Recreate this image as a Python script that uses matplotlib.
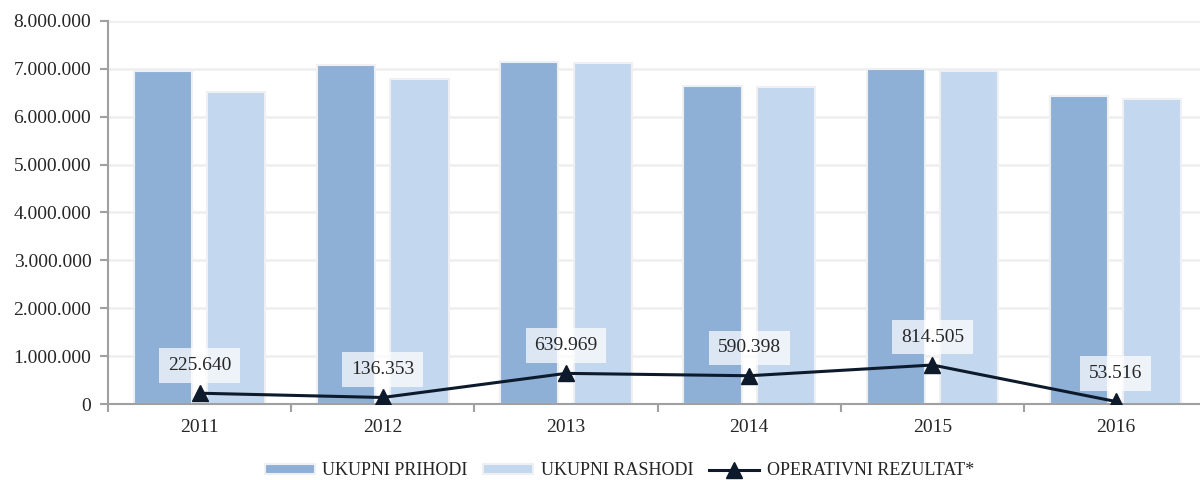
import matplotlib
matplotlib.use("Agg")
import matplotlib.pyplot as plt
import numpy as np
from matplotlib.ticker import FuncFormatter, FixedLocator

years = ["2011", "2012", "2013", "2014", "2015", "2016"]
prihodi = [6950000, 7080000, 7140000, 6640000, 6990000, 6430000]
rashodi = [6510000, 6790000, 7120000, 6620000, 6950000, 6380000]
rezultat = [225640, 136353, 639969, 590398, 814505, 53516]
series_names = ["UKUPNI PRIHODI", "UKUPNI RASHODI", "OPERATIVNI REZULTAT*"]

plt.rcParams['font.family'] = ['Liberation Serif', 'DejaVu Serif']

def fmt(v):
    return f"{int(round(v)):,}".replace(",", ".")

fig = plt.figure(figsize=(12, 4.8), dpi=100)
ax = fig.add_axes([0.09, 0.1583, 0.916, 0.798])

x = np.arange(len(years))
w = 0.318
off = 0.2
c1 = "#8eb0d7"
c2 = "#c3d7ee"
line_c = "#0d1a2b"
txt_c = "#262626"

b1 = ax.bar(x - off, prihodi, w, color=c1, edgecolor="#eef0f3", linewidth=1.5, label=series_names[0], zorder=2)
b2 = ax.bar(x + off, rashodi, w, color=c2, edgecolor="#eef0f3", linewidth=1.5, label=series_names[1], zorder=2)
ln, = ax.plot(x, rezultat, color=line_c, lw=2.2, marker="^", markersize=12, label=series_names[2], zorder=4)

for xi, v in zip(x, rezultat):
    ax.annotate(fmt(v), (xi, v), xytext=(0, 20), textcoords="offset points",
                ha="center", va="center", fontsize=14, color=txt_c, zorder=5,
                bbox=dict(boxstyle="square,pad=0.45", fc="white", ec="none", alpha=0.7))

ax.set_xlim(-0.5, len(years) - 0.5)
ax.set_ylim(0, 8000000)
ax.yaxis.set_major_locator(FixedLocator(np.arange(0, 8000001, 1000000)))
ax.yaxis.set_major_formatter(FuncFormatter(lambda v, p: fmt(v)))
ax.set_xticks(x)
ax.set_xticklabels(years)
ax.set_xticks(np.arange(-0.5, len(years), 1.0), minor=True)
ax.tick_params(axis="x", which="major", length=0, pad=11, labelsize=14, colors=txt_c)
ax.tick_params(axis="x", which="minor", length=6, width=1.5, color="#a0a0a0")
ax.tick_params(axis="y", length=6, width=1.5, color="#a0a0a0", labelsize=14, colors=txt_c, pad=6)
ax.grid(axis="y", color="#eeeeee", lw=1.8, zorder=0)
ax.set_axisbelow(True)
for s in ["top", "right"]:
    ax.spines[s].set_visible(False)
ax.spines["left"].set_color("#a0a0a0")
ax.spines["bottom"].set_color("#a0a0a0")
ax.spines["left"].set_linewidth(1.5)
ax.spines["bottom"].set_linewidth(1.5)

leg = fig.legend(handles=[b1, b2, ln], loc="center", bbox_to_anchor=(0.516, 0.019), ncol=3,
                 frameon=False, fontsize=13, handlelength=2.77, handleheight=0.45,
                 columnspacing=0.9, handletextpad=0.4, labelcolor=txt_c)

fig.savefig("out.png", dpi=100)
